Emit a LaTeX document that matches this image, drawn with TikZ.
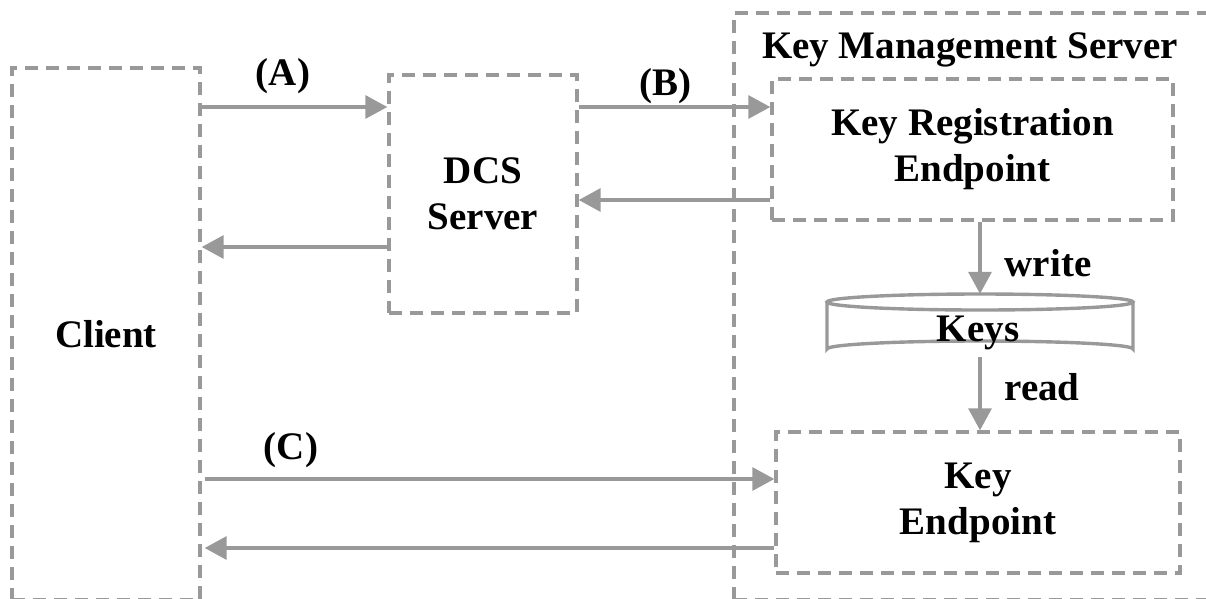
\documentclass[tikz,border=0pt]{standalone}
\usepackage{fontspec}
\setmainfont{Liberation Serif}
\usetikzlibrary{arrows.meta}
\definecolor{lg}{HTML}{999999}
\tikzset{
  dbox/.style={draw=lg, line width=3.4pt, dash pattern=on 13pt off 8pt, rectangle, inner sep=0pt, align=center, font=\fontsize{39}{46}\selectfont\bfseries},
  lbl/.style={inner sep=0pt, font=\fontsize{39}{46}\selectfont\bfseries},
  arr/.style={draw=lg, line width=3.4pt, -{Triangle[length=22pt,width=23pt]}, fill=lg},
}
\begin{document}
\begin{tikzpicture}[x=1pt,y=-1pt]
\useasboundingbox (0,0) rectangle (1206,598);
% boxes
\node[dbox, minimum width=188pt, minimum height=532pt] (client) at (106,334) {Client};
\node[dbox, minimum width=480pt, minimum height=587pt] (kms) at (974,306.5) {};
\node[lbl] (kmslabel) at (970,50) {Key Management Server};
\node[dbox, minimum width=188pt, minimum height=238pt] (dcs) at (483,194) {DCS\\Server};
\node[dbox, minimum width=401pt, minimum height=141pt] (kre) at (972.5,149.5) {Key Registration\\Endpoint};
\node[dbox, minimum width=404pt, minimum height=141pt] (ke) at (978,502.5) {Key\\Endpoint};
% cylinder
\node[inner sep=0pt, minimum width=306pt, minimum height=63pt] (keys) at (980,325.5) {};
\draw[lg, line width=3.4pt, fill=white] (827,302) -- (827,349) arc[start angle=180, end angle=360, x radius=153, y radius=8] -- (1133,302);
\draw[lg, line width=3.4pt, fill=white] (980,302) ellipse[x radius=153, y radius=8];
\node[lbl] (keyslabel) at (978,333) {Keys};
% arrows
\draw[arr] (client.east |- 0,107) -- (dcs.west |- 0,107);
\draw[arr] (dcs.west |- 0,247) -- (client.east |- 0,247);
\draw[arr] (dcs.east |- 0,107) -- (kre.west |- 0,107);
\draw[arr] (kre.west |- 0,200) -- (dcs.east |- 0,200);
\draw[arr] (kre.south -| 980,0) -- (keys.north -| 980,0);
\draw[arr] (keys.south -| 980,0) -- (ke.north -| 980,0);
\draw[arr] ([xshift=3pt]client.east |- 0,479) -- (ke.west |- 0,479);
\draw[arr] (ke.west |- 0,548) -- ([xshift=3pt]client.east |- 0,548);
% labels
\node[lbl] (la) at (283,76) {(A)};
\node[lbl] (lb) at (665,86) {(B)};
\node[lbl] (lc) at (291,450) {(C)};
\node[lbl] (lw) at (1048,263) {write};
\node[lbl] (lr) at (1042,387) {read};
\end{tikzpicture}
\end{document}
